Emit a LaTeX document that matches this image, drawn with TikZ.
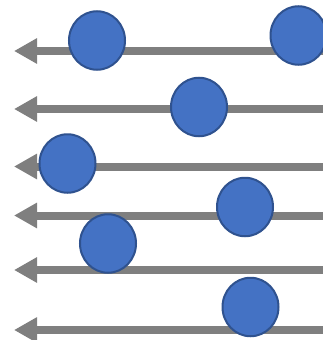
\documentclass[tikz,border=0pt]{standalone}
\usetikzlibrary{arrows.meta,shapes.geometric}
\definecolor{arrgray}{HTML}{7F7F7F}
\definecolor{dotfill}{HTML}{4472C4}
\definecolor{dotedge}{HTML}{2F528F}
\tikzset{
  flow/.style={draw=arrgray, line width=8pt, -{Triangle[length=23pt,width=24pt]}},
  dot/.style={ellipse, draw=dotedge, fill=dotfill, line width=2pt, minimum width=56pt, minimum height=58.5pt, inner sep=0pt}
}
\begin{document}
\begin{tikzpicture}[x=1pt,y=-1pt]
\useasboundingbox (0,0) rectangle (323,340);
\foreach \i/\y in {1/51,2/109,3/166.5,4/215.5,5/270,6/330}{
  \coordinate (r\i) at (325,\y);
  \coordinate (l\i) at (14,\y);
  \draw[flow] (r\i) -- (l\i);
}
\node[dot] (c1) at (97,40.5) {};
\node[dot] (c2) at (298.5,35.5) {};
\node[dot] (c3) at (199,107) {};
\node[dot] (c4) at (67.5,163.5) {};
\node[dot] (c5) at (245,207) {};
\node[dot] (c6) at (108,243.5) {};
\node[dot] (c7) at (250.5,307) {};
\end{tikzpicture}
\end{document}
